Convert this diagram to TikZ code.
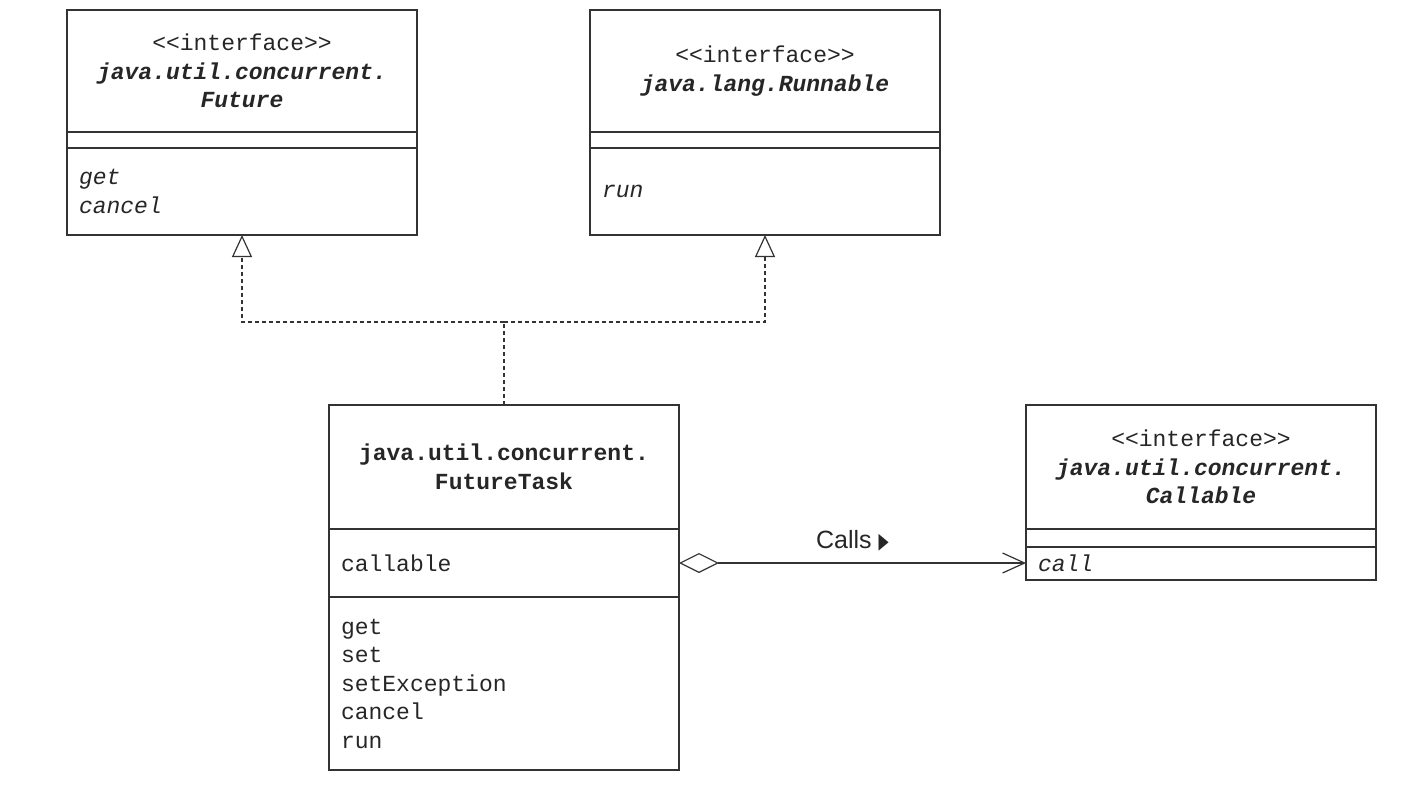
\documentclass[tikz,border=0pt]{standalone}
\usepackage{fontspec}
\setmonofont{Liberation Mono}
\setsansfont{Liberation Sans}
\newfontfamily\symbfont{DejaVu Sans}
\usetikzlibrary{positioning,arrows.meta}
\tikzset{
  classpart/.style = {shape=rectangle, draw=black!80, line width=0.6pt,
                      text width=163pt, inner xsep=6pt, inner ysep=2pt,
                      outer sep=0pt,
                      font=\ttfamily\fontsize{11.5}{14.25}\selectfont,
                      text=black!85},
  classhead/.style = {classpart, align=center, anchor=north west},
  members/.style   = {classpart, align=left},
  realizeline/.style = {draw=black!80, line width=0.6pt,
                        dash pattern=on 2pt off 1.5pt},
  realize/.style   = {realizeline,
                      -{Triangle[open, length=11pt, width=10pt]}},
  aggregate/.style = {draw=black!80, line width=0.6pt,
                      {Diamond[open, length=20pt, width=10pt]}-{Straight Barb[length=11pt, width=10pt]}},
  callslabel/.style = {midway, above=5.5pt, inner sep=0pt,
                       font=\sffamily\fontsize{12.5}{15}\selectfont,
                       text=black!85}
}
\begin{document}
\begin{tikzpicture}[x=0.5pt, y=-0.5pt]
    \useasboundingbox (0,0) rectangle (1420,787);

    \node [classhead, minimum height=61pt] (future) at (67,10)
        {<<interface>>\\ \textbf{\textit{java.util.concurrent.}}\\ \textbf{\textit{Future}}};
    \node [members, minimum height=8pt, below=0pt of future] (futurefields) {};
    \node [members, minimum height=43.5pt, below=0pt of futurefields] (futuremethods)
        {\textit{get}\\ \textit{cancel}};

    \node [classhead, minimum height=61pt] (runnable) at (590,10)
        {<<interface>>\\ \textbf{\textit{java.lang.Runnable}}};
    \node [members, minimum height=8pt, below=0pt of runnable] (runnablefields) {};
    \node [members, minimum height=43.5pt, below=0pt of runnablefields] (runnablemethods)
        {\textit{run}};

    \node [classhead, minimum height=62pt] (task) at (329,405)
        {\textbf{java.util.concurrent.}\\ \textbf{FutureTask}};
    \node [members, minimum height=34pt, below=0pt of task] (taskfields) {callable};
    \node [members, minimum height=86.5pt, below=0pt of taskfields] (taskmethods)
        {get\\ set\\ setException\\ cancel\\ run};

    \node [classhead, minimum height=62pt] (callable) at (1026,405)
        {<<interface>>\\ \textbf{\textit{java.util.concurrent.}}\\ \textbf{\textit{Callable}}};
    \node [members, minimum height=9pt, below=0pt of callable] (callablefields) {};
    \node [members, minimum height=16.5pt, below=0pt of callablefields] (callablemethods)
        {\textit{call}};

    \coordinate (join) at ([yshift=41.5pt]task.north);
    \draw [realizeline] (task.north) -- (join);
    \draw [realize] (join) -| (futuremethods.south);
    \draw [realize] (join) -| (runnablemethods.south);

    \draw [aggregate] (taskfields.east) -- (taskfields.east -| callablemethods.west)
        node [callslabel] {Calls {\symbfont\fontsize{11}{12}\selectfont\scalebox{0.6}[1]{▶}}};
\end{tikzpicture}
\end{document}
